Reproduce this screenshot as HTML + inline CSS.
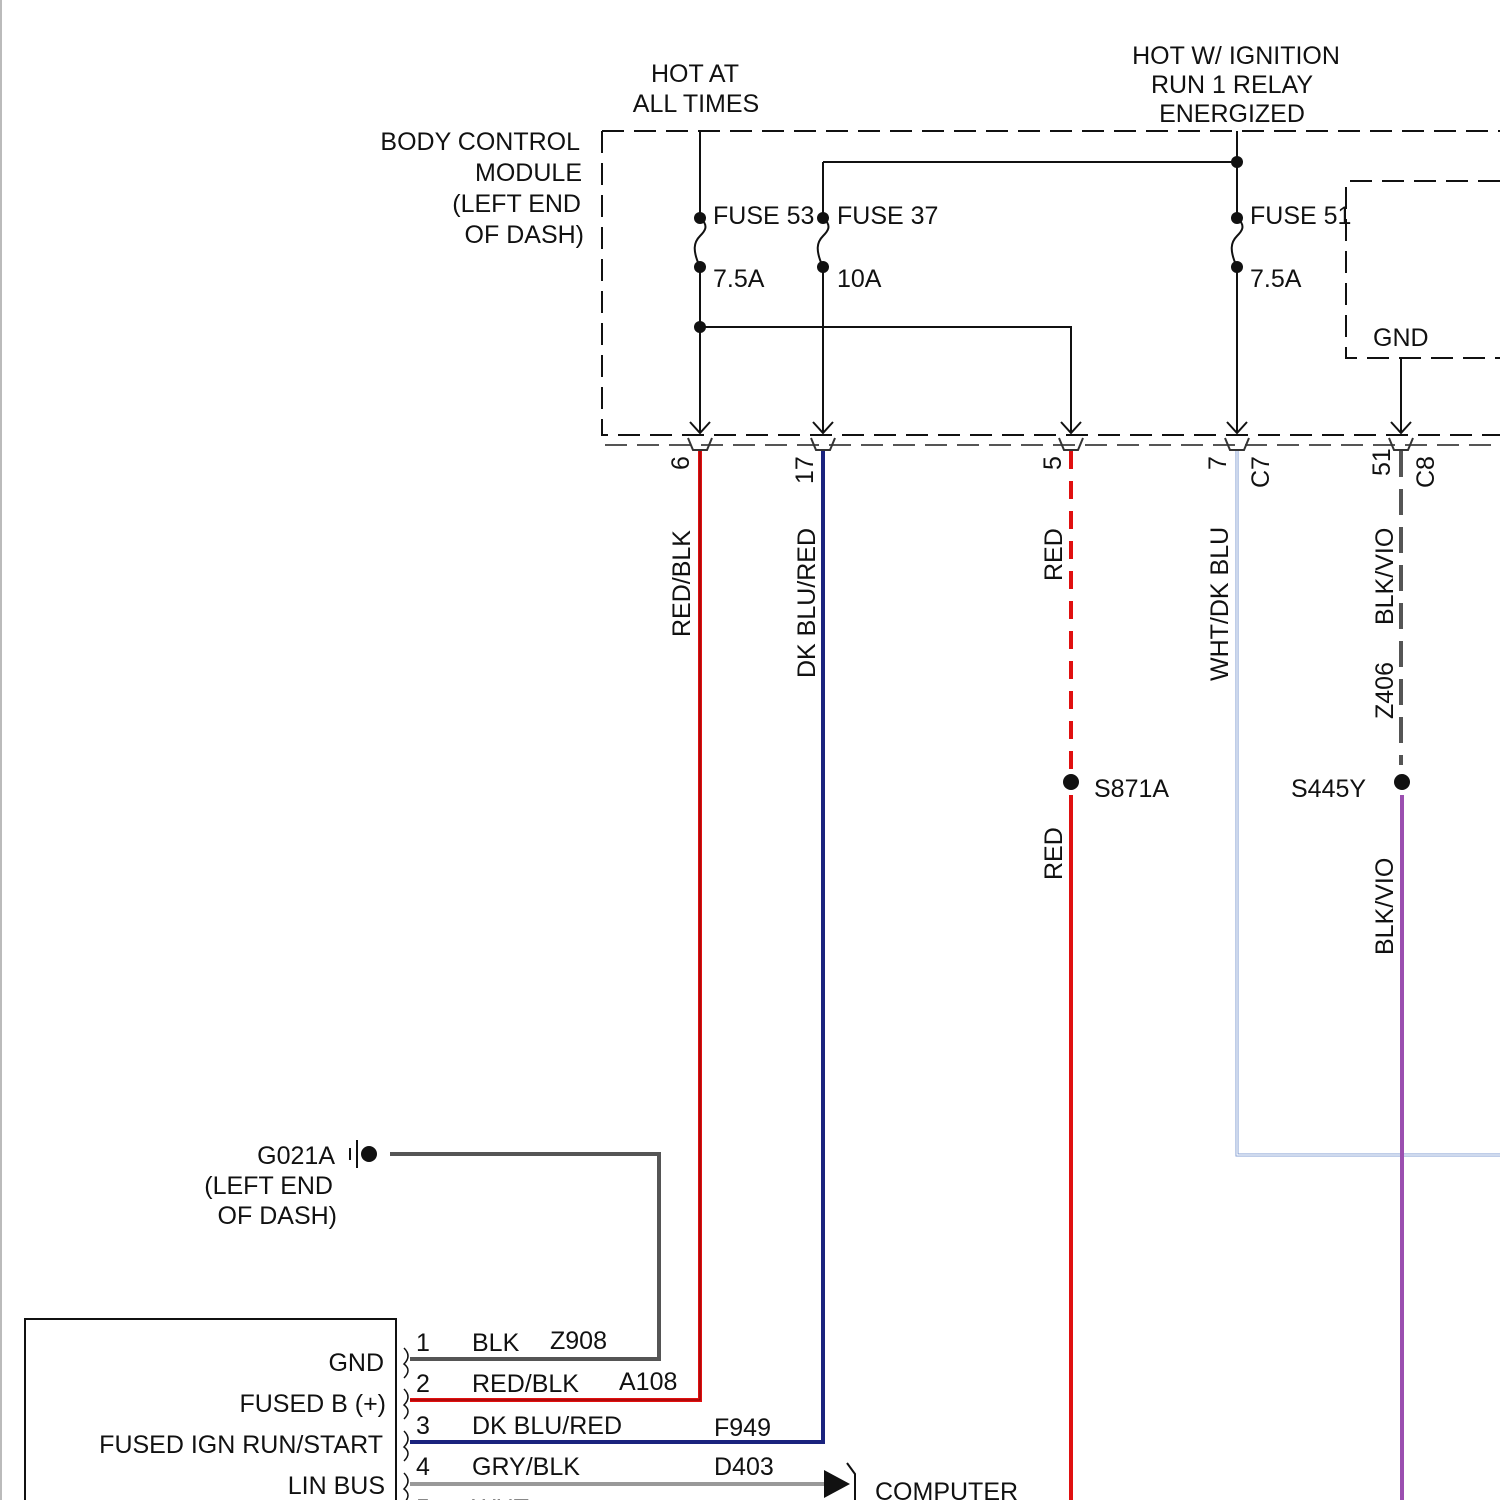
<!DOCTYPE html>
<html><head><style>body{margin:0;background:#fff}svg{display:block}text{font-family:"Liberation Sans",sans-serif;font-size:25px;fill:#111}</style></head><body>
<svg width="1500" height="1500" viewBox="0 0 1500 1500" xmlns="http://www.w3.org/2000/svg">
<line x1="1" y1="0" x2="1" y2="1500" stroke="#bbb" stroke-width="2"/>
<g fill="none" stroke="#111" stroke-width="2">
<path d="M602 131 H1500 M602 131 V435 H1500" stroke-dasharray="22 10"/>
<path d="M1500 181 H1346 V358 H1500" stroke-dasharray="22 10"/>
<path d="M700 131 V218 M700 267 V433 M823 162 V218 M823 267 V433 M823 162 H1237 M1237 131 V218 M1237 267 V433 M700 327 H1071 V433 M1401 358 V433"/>
<path d="M700 218 c10 8 4 14 0 18 c-6 6 -8 14 0 31 M823 218 c10 8 4 14 0 18 c-6 6 -8 14 0 31 M1237 218 c10 8 4 14 0 18 c-6 6 -8 14 0 31"/>
<path d="M690 422 L700 433 L710 422 M813 422 L823 433 L833 422 M1061 422 L1071 433 L1081 422 M1227 422 L1237 433 L1247 422 M1391 422 L1401 433 L1411 422"/>
</g>
<path d="M605 445 H1500" stroke="#555" stroke-width="2" stroke-dasharray="22 10"/>
<g fill="none" stroke="#333" stroke-width="2">
<path d="M688 438 L693 450 H707 L712 438 M811 438 L816 450 H830 L835 438 M1059 438 L1064 450 H1078 L1083 438 M1225 438 L1230 450 H1244 L1249 438 M1389 438 L1394 450 H1408 L1413 438"/>
</g>
<g fill="#111">
<circle cx="700" cy="218" r="6"/><circle cx="700" cy="267" r="6"/><circle cx="823" cy="218" r="6"/><circle cx="823" cy="267" r="6"/><circle cx="1237" cy="218" r="6"/><circle cx="1237" cy="267" r="6"/><circle cx="1237" cy="162" r="6"/><circle cx="700" cy="327" r="6"/>
<circle cx="1071" cy="782" r="8"/><circle cx="1402" cy="782" r="8"/><circle cx="369" cy="1154" r="8"/>
</g>
<path d="M700 451 V1400 H410" fill="none" stroke="#e01010" stroke-width="4"/>
<path d="M700 451 V1400 H410" fill="none" stroke="#600" stroke-width="0.8"/>
<path d="M823 451 V1442 H410" fill="none" stroke="#1a237e" stroke-width="4"/>
<path d="M1071 451 V770" fill="none" stroke="#e01010" stroke-width="4" stroke-dasharray="18 12"/>
<path d="M1071 795 V1500" fill="none" stroke="#e01010" stroke-width="4"/>
<path d="M1237 451 V1155 H1500" fill="none" stroke="#7f9bd0" stroke-width="3"/>
<path d="M1237 451 V1155 H1500" fill="none" stroke="#fff" stroke-width="1.2"/>
<path d="M1401 451 V765" fill="none" stroke="#555" stroke-width="4" stroke-dasharray="26 12"/>
<path d="M1402 795 V1500" fill="none" stroke="#9b4fb0" stroke-width="4"/>
<path d="M390 1154 H659 V1359 H410" fill="none" stroke="#555" stroke-width="4"/>
<path d="M410 1484 H826" fill="none" stroke="#999" stroke-width="4"/>
<path d="M824 1470 L850 1484 L824 1498 Z" fill="#111"/>
<path d="M847 1463 L855 1474 V1500" fill="none" stroke="#111" stroke-width="2"/>
<g stroke="#111" stroke-width="2"><line x1="350" y1="1148" x2="350" y2="1160"/><line x1="357" y1="1140" x2="357" y2="1168"/></g>
<rect x="25" y="1319" width="371" height="190" fill="none" stroke="#111" stroke-width="2"/>
<path d="M404 1348 q8 8 0 16 q8 6 0 14 M404 1389 q8 8 0 16 q8 6 0 14 M404 1431 q8 8 0 16 q8 6 0 14 M404 1473 q8 8 0 16 q8 6 0 14" fill="none" stroke="#111" stroke-width="1.5"/>
<g text-anchor="end">
<text x="580" y="150">BODY CONTROL</text><text x="582" y="181">MODULE</text><text x="581" y="212">(LEFT END</text><text x="584" y="243">OF DASH)</text>
<text x="335" y="1164">G021A</text><text x="333" y="1194">(LEFT END</text><text x="337" y="1224">OF DASH)</text>
<text x="384" y="1371">GND</text><text x="386" y="1412">FUSED B (+)</text><text x="383" y="1453">FUSED IGN RUN/START</text><text x="385" y="1494">LIN BUS</text>
</g>
<g text-anchor="middle">
<text x="695" y="82">HOT AT</text><text x="696" y="112">ALL TIMES</text>
<text x="1236" y="64">HOT W/ IGNITION</text><text x="1232" y="93">RUN 1 RELAY</text><text x="1232" y="122">ENERGIZED</text>
</g>
<text x="713" y="224">FUSE 53</text><text x="713" y="287">7.5A</text>
<text x="837" y="224">FUSE 37</text><text x="837" y="287">10A</text>
<text x="1250" y="224">FUSE 51</text><text x="1250" y="287">7.5A</text>
<text x="1373" y="346">GND</text>
<text x="1094" y="797">S871A</text><text x="1291" y="797">S445Y</text>
<text x="416" y="1351">1</text><text x="472" y="1351">BLK</text><text x="550" y="1349">Z908</text>
<text x="416" y="1392">2</text><text x="472" y="1392">RED/BLK</text><text x="619" y="1390">A108</text>
<text x="416" y="1434">3</text><text x="472" y="1434">DK BLU/RED</text><text x="714" y="1436">F949</text>
<text x="416" y="1475">4</text><text x="472" y="1475">GRY/BLK</text><text x="714" y="1475">D403</text>
<text x="416" y="1517">5</text><text x="472" y="1517">WHT</text>
<text x="875" y="1500">COMPUTER</text>
<g>
<text transform="translate(689,470) rotate(-90)">6</text>
<text transform="translate(813,484) rotate(-90)">17</text>
<text transform="translate(1061,470) rotate(-90)">5</text>
<text transform="translate(1226,470) rotate(-90)">7</text>
<text transform="translate(1269,488) rotate(-90)">C7</text>
<text transform="translate(1390,476) rotate(-90)">51</text>
<text transform="translate(1434,488) rotate(-90)">C8</text>
<text transform="translate(690,637) rotate(-90)">RED/BLK</text>
<text transform="translate(815,678) rotate(-90)">DK BLU/RED</text>
<text transform="translate(1062,581) rotate(-90)">RED</text>
<text transform="translate(1228,681) rotate(-90)">WHT/DK BLU</text>
<text transform="translate(1393,625) rotate(-90)">BLK/VIO</text>
<text transform="translate(1393,719) rotate(-90)">Z406</text>
<text transform="translate(1062,880) rotate(-90)">RED</text>
<text transform="translate(1393,955) rotate(-90)">BLK/VIO</text>
</g>
</svg>
</body></html>
